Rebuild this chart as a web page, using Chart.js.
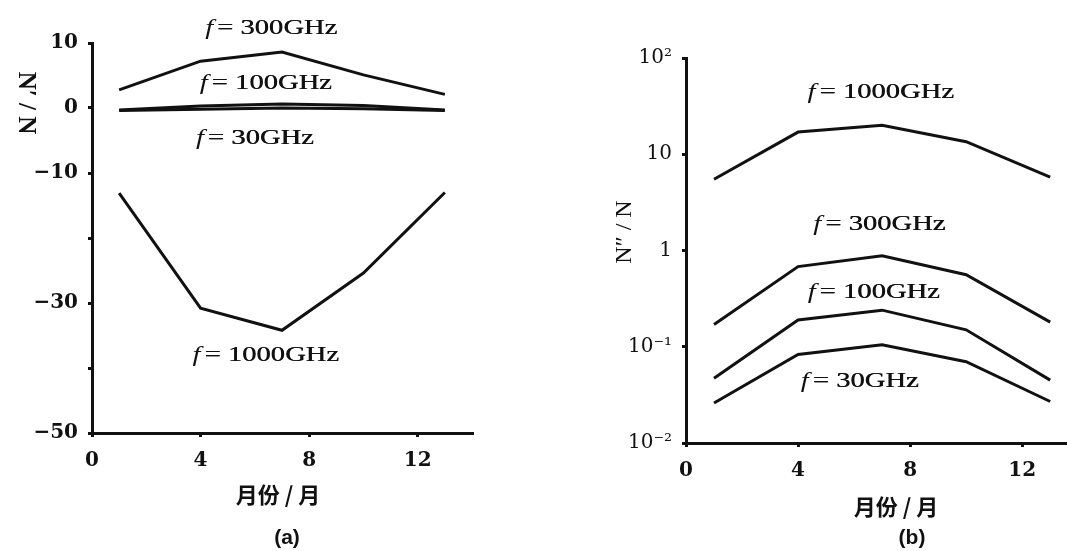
<!DOCTYPE html>
<html>
<head>
<meta charset="utf-8">
<script src="https://cdn.jsdelivr.net/npm/chart.js@4"></script>
<style>
  body { margin: 0; background: #fff; width: 1067px; height: 551px; overflow: hidden; position: relative; }
  canvas { position: absolute; top: 0; }
  #chartA { left: 0; }
  #chartB { left: 540px; }
</style>
</head>
<body>
<canvas id="chartA" width="530" height="551"></canvas>
<canvas id="chartB" width="527" height="551"></canvas>
<script>
// months (x) shared by every curve
const months = [1, 4, 7, 10, 13];

// (a) N'/N
const a300 = [2.8, 7.2, 8.6, 5.1, 2.1];
const a100 = [-0.3, 0.3, 0.6, 0.4, -0.3];
const a30 = [-0.4, -0.2, 0.0, -0.1, -0.4];
const a1000 = [-13.1, -30.8, -34.2, -25.4, -13.0];

// (b) N''/N  (log axis)
const b1000 = [5.5, 17, 20, 13.5, 5.8];
const b300 = [0.17, 0.68, 0.88, 0.56, 0.18];
const b100 = [0.047, 0.19, 0.24, 0.15, 0.045];
const b30 = [0.026, 0.083, 0.105, 0.07, 0.027];

const xTicks = [0, 4, 8, 12];
const aTicks = [-50, -40, -30, -20, -10, 0, 10];
const aTickLabels = ['−50', '', '−30', '', '−10', '0', '10'];
const bTicks = [0.01, 0.1, 1, 10, 100];
const bTickLabels = ['10⁻²', '10⁻¹', '1', '10', '10²'];

const aFreqs = ['300', '100', '30', '1000'];
const bFreqs = ['1000', '300', '100', '30'];
// where the "f = ..." labels sit, in data units
const aNoteAt = [[6.6, 12.3], [6.4, 3.8], [6.0, -4.6], [6.4, -38]];
const bNoteAt = [[6.95, 44], [6.9, 1.87], [6.7, 0.37], [6.2, 0.0435]];

const ink = '#111';

const line = d => ({
  data: months.map((m, i) => ({ x: m, y: d[i] })),
  borderColor: ink,
  borderWidth: 3,
  pointRadius: 0,
  tension: 0,
  fill: false
});

const notes = {
  id: 'notes',
  afterDraw(chart, args, opts) {
    const { ctx, scales: { x, y } } = chart;
    ctx.save();
    ctx.fillStyle = ink;
    ctx.textBaseline = 'middle';
    opts.freqs.forEach((f, i) => {
      const px = x.getPixelForValue(opts.at[i][0]);
      const py = y.getPixelForValue(opts.at[i][1]);
      const rest = '= ' + f + 'GHz';
      ctx.font = 'italic 22px "Liberation Serif"';
      const w1 = ctx.measureText('f').width;
      ctx.font = '22px "Liberation Serif"';
      const w2 = ctx.measureText(rest).width;
      const gap = 3;
      const start = -(w1 + gap + w2) / 2;
      ctx.save();
      ctx.translate(px, py);
      ctx.scale(1.3, 1);
      ctx.textAlign = 'left';
      ctx.font = 'italic 22px "Liberation Serif"';
      ctx.fillText('f', start, 0);
      ctx.font = '22px "Liberation Serif"';
      ctx.fillText(rest, start + w1 + gap, 0);
      // slight second pass for the heavy print look
      ctx.fillText(rest, start + w1 + gap + 0.4, 0);
      ctx.restore();
    });
    opts.texts.forEach(t => {
      ctx.save();
      ctx.translate(t.x, t.y);
      ctx.rotate(t.rot || 0);
      ctx.font = t.font;
      ctx.textAlign = 'center';
      ctx.fillText(t.text, 0, 0);
      ctx.restore();
    });
    ctx.restore();
  }
};

const xScale = (max, h) => ({
  type: 'linear',
  min: 0,
  max: max,
  afterBuildTicks: s => { s.ticks = xTicks.map(v => ({ value: v })); },
  afterFit: s => { s.height = h; },
  border: { color: ink, width: 3 },
  grid: { drawOnChartArea: false, color: ink, lineWidth: 3, tickLength: 4 },
  ticks: {
    color: ink, padding: 12, maxRotation: 0, autoSkip: false,
    font: { family: 'DejaVu Serif', size: 20, weight: 'bold' }
  }
});

new Chart(document.getElementById('chartA'), {
  type: 'line',
  data: { datasets: [line(a300), line(a100), line(a30), line(a1000)] },
  options: {
    responsive: false,
    animation: false,
    layout: { padding: { top: 43, right: 58, left: 0, bottom: 0 } },
    plugins: {
      legend: { display: false },
      tooltip: { enabled: false },
      notes: {
        freqs: aFreqs,
        at: aNoteAt,
        texts: [
          { text: 'N′ / N', x: 25, y: 103, rot: Math.PI / 2, font: 'bold 25px "Liberation Serif"' },
          { text: '月份 / 月', x: 278, y: 495, font: 'bold 22px "Noto Sans CJK SC"' },
          { text: '(a)', x: 287, y: 538, font: 'bold 21px "Liberation Sans"' }
        ]
      }
    },
    scales: {
      x: xScale(14, 118),
      y: {
        type: 'linear',
        min: -50,
        max: 10,
        afterBuildTicks: s => { s.ticks = aTicks.map(v => ({ value: v })); },
        afterFit: s => { s.width = 92; },
        border: { color: ink, width: 3 },
        grid: { drawOnChartArea: false, color: ink, lineWidth: 3, tickLength: 4 },
        ticks: {
          color: ink, padding: 10, autoSkip: false,
          font: { family: 'DejaVu Serif', size: 20, weight: 'bold' },
          callback: v => aTickLabels[aTicks.indexOf(v)]
        }
      }
    }
  },
  plugins: [notes]
});

new Chart(document.getElementById('chartB'), {
  type: 'line',
  data: { datasets: [line(b1000), line(b300), line(b100), line(b30)] },
  options: {
    responsive: false,
    animation: false,
    layout: { padding: { top: 58, right: 0, left: 0, bottom: 0 } },
    plugins: {
      legend: { display: false },
      tooltip: { enabled: false },
      notes: {
        freqs: bFreqs,
        at: bNoteAt,
        texts: [
          { text: 'N″ / N', x: 85, y: 232, rot: -Math.PI / 2, font: '24px "Liberation Serif"' },
          { text: '月份 / 月', x: 356, y: 507, font: 'bold 22px "Noto Sans CJK SC"' },
          { text: '(b)', x: 372, y: 538, font: 'bold 21px "Liberation Sans"' }
        ]
      }
    },
    scales: {
      x: xScale(13.6, 108),
      y: {
        type: 'logarithmic',
        min: 0.01,
        max: 100,
        afterBuildTicks: s => { s.ticks = bTicks.map(v => ({ value: v })); },
        afterFit: s => { s.width = 146; },
        border: { color: ink, width: 3 },
        grid: { drawOnChartArea: false, color: ink, lineWidth: 3, tickLength: 4 },
        ticks: {
          color: ink, padding: 10, autoSkip: false,
          font: { family: 'DejaVu Serif', size: 20 },
          callback: v => bTickLabels[bTicks.indexOf(v)]
        }
      }
    }
  },
  plugins: [notes]
});
</script>
</body>
</html>
